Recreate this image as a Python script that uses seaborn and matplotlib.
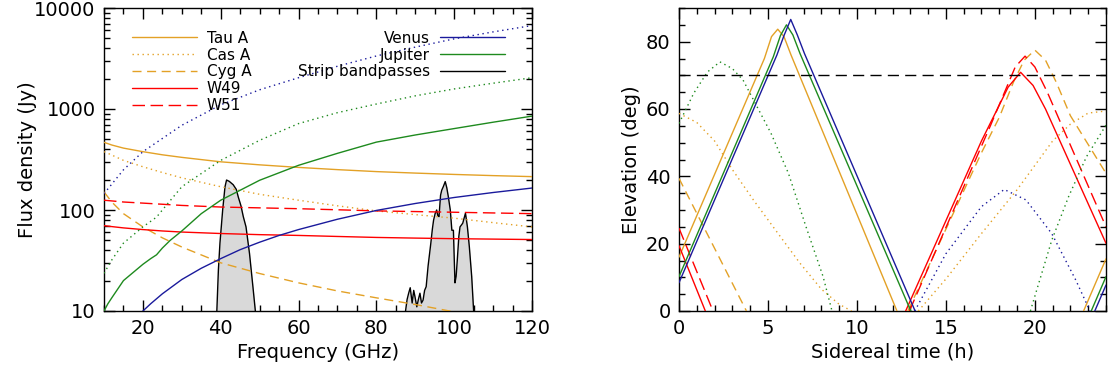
import numpy as np
import pandas as pd
import matplotlib
matplotlib.use("Agg")
import matplotlib.pyplot as plt
import seaborn as sns
from matplotlib.ticker import MultipleLocator, FixedLocator, FuncFormatter, NullFormatter

# ---------------- Left panel data (flux density vs frequency) ----------------
FREQ = [10, 12, 15, 20, 25, 30, 40, 50, 60, 70, 80, 90, 100, 110, 120]
TAU_A = [468, 440, 410, 378, 352, 332, 300, 280, 264, 251, 240, 232, 225, 219, 214]
CAS_A = [378, 350, 310, 268, 235, 208, 170, 143, 125, 110, 98, 90, 83, 75, 68]
CYG_A = [151, 120, 92, 68, 53, 43, 30, 23.5, 19, 15.8, 13.5, 11.6, 9.8, 8.6, 7.7]
W49 = [70, 68.5, 66.5, 64, 62, 60.5, 58.5, 57, 56, 54.7, 53.5, 52.7, 52, 51.5, 51]
W51 = [125, 123, 120, 117, 114, 111, 107, 105, 103, 100.5, 98, 96.5, 95, 93.5, 92]

VENUS_F = [20, 22, 25, 30, 35, 40, 45, 50, 55, 60, 70, 80, 90, 100, 110, 120]
VENUS = [10, 11.8, 14.8, 20.5, 26.5, 33, 40.5, 48, 56, 64, 81, 99, 116, 133, 149, 165]

JUP_F = [10, 11, 12, 15, 18, 20, 22, 23.5, 25, 27, 30, 35, 40, 50, 60, 70, 80, 90, 100, 110, 120]
JUPITER = [10, 11.8, 13.5, 20, 25, 29, 33, 36, 42, 50, 62, 92, 125, 197, 277, 364, 470, 553, 640, 740, 850]

BLUE_DOT_F = [10, 15, 20, 30, 40, 50, 60, 70, 80, 90, 100, 110, 120]
BLUE_DOT = [145, 250, 378, 690, 1100, 1550, 2040, 2650, 3350, 4100, 4950, 5800, 6700]

GREEN_DOT_F = [10, 12, 15, 20, 23.5, 25, 30, 40, 50, 60, 70, 80, 90, 100, 110, 120]
GREEN_DOT = [23.6, 32, 47, 68, 85, 100, 170, 310, 490, 717, 920, 1120, 1350, 1580, 1800, 2040]

BAND1_F = [39.0, 39.4, 39.8, 40.5, 41.1, 41.5, 42.2, 43.2, 44.0, 44.5, 45.2, 45.8,
           46.5, 47.4, 48.3, 48.9]
BAND1 = [10, 25.5, 47, 100, 170, 198, 192, 178, 160, 135, 110, 86, 68, 37, 17, 10]

BAND2_F = [87.5, 87.9, 88.3, 88.7, 89.2, 89.6, 89.9, 90.4, 90.8, 91.2, 91.6, 92.0,
           92.4, 92.8, 93.3, 94.0, 94.4, 94.7, 95.1, 95.5, 95.8, 96.1, 96.5, 96.8,
           97.2, 97.7, 98.1, 98.5, 99.0, 99.4, 99.8, 100.2, 100.5, 100.8, 101.2,
           101.5, 102.2, 102.9, 103.4, 103.9, 104.5, 105.0]
BAND2 = [10, 13, 15, 17, 12, 16, 14, 11, 13, 15, 12, 12.8,
         16, 17.4, 28, 47, 65, 79, 92, 100, 88, 86, 140, 157,
         170, 191, 166, 135, 100, 63, 63, 19, 22, 32, 55,
         68, 74, 93, 68, 43, 22, 10]

# ---------------- Right panel data (elevation vs sidereal time) ----------------
TAU_H = [[0, 4.8, 5.2, 5.55, 5.9, 6.3, 12.25], [22.74, 24]]
TAU_EL = [[16, 75, 81.5, 83.7, 81.5, 76, 0], [0, 15.5]]

JUP_H = [[0, 5.3, 5.7, 6.04, 6.4, 6.8, 13.03], [23.17, 24]]
JUP_EL = [[10.2, 75.5, 81.8, 85, 82, 76.5, 0], [0, 10.2]]

VEN_H = [[0, 5.5, 5.9, 6.28, 6.65, 7.05, 13.27], [23.37, 24]]
VEN_EL = [[8.4, 76, 81.8, 86.6, 82, 76.5, 0], [0, 7.7]]

W49_H = [[0, 1.48], [12.74, 17.0, 17.8, 18.5, 19.2, 19.9, 20.6, 24]]
W49_EL = [[19.4, 0], [0, 50.5, 59, 66.5, 70.9, 67, 60, 20.1]]

W51_H = [[0, 1.91], [12.95, 17.5, 18.3, 18.9, 19.45, 20.0, 20.7, 24]]
W51_EL = [[24.6, 0], [0, 55, 65, 72.5, 75.7, 72.5, 65, 25]]

CYG_H = [[0, 3.79], [12.86, 17.0, 18.0, 18.8, 19.4, 20.0, 20.6, 21.2, 22.0, 24]]
CYG_EL = [[39.4, 0], [0, 47, 57.5, 68, 74.5, 77.5, 74.5, 68, 58, 40.9]]

CAS_H = [[0, 1, 2, 3, 4.18, 5.5, 6.8, 8.0, 9.0, 9.7],
         [13.45, 15.0, 17.0, 19.0, 21.0, 22.0, 23.0, 24]]
CAS_EL = [[58.7, 56, 50.5, 42, 33, 23.5, 14.2, 6.5, 2.0, 0],
          [0, 9.5, 23, 36, 50.5, 55.5, 58.8, 59.4]]

BDOT_H = [[13.25, 15.0, 17.0, 18.28, 19.5, 20.95, 22.3, 23.1]]
BDOT_EL = [[0, 17, 31, 36.1, 33, 23, 9.2, 0]]

GDOT_H = [[0, 0.83, 1.6, 2.3, 3.0, 3.6, 5.17, 6.15, 7.14, 8.1, 8.6],
          [19.75, 20.95, 21.9, 22.9, 24]]
GDOT_EL = [[55.7, 64.7, 71, 74, 72, 68.6, 52.8, 40.9, 25, 10.2, 0],
           [0, 21, 34, 45.8, 55.2]]

LIMIT_H = [0, 24]
LIMIT_EL = [70, 70]

LABELS_L = ["Tau A", "Cas A", "Cyg A", "W49", "W51"]
LABELS_R = ["Venus", "Jupiter", "Strip bandpasses"]

# ---------------- Styles ----------------
ORANGE = "#e3a126"
RED = "#ff0000"
GREEN = "#1e8a1e"
BLUE = "#1a1a9c"
DOT = (0, (1, 2.6))
CYGDASH = (0, (6.5, 4))
W51DASH = (0, (9, 4))
LW = 1.0

sns.set_theme(style="ticks")
plt.rcParams['font.family'] = ['DejaVu Sans']
plt.rcParams['axes.linewidth'] = 1.0
for k in ("text.color", "axes.labelcolor", "xtick.color", "ytick.color", "axes.edgecolor"):
    plt.rcParams[k] = "black"

fig = plt.figure(figsize=(11.10, 3.72), dpi=100)
axL = fig.add_axes([104 / 1110, 61 / 372, 428 / 1110, 303 / 372])
axR = fig.add_axes([679 / 1110, 61 / 372, 427 / 1110, 303 / 372])


def line(ax, x, y, color, ls="-", lw=LW, zorder=3):
    sns.lineplot(x=np.asarray(x, float), y=np.asarray(y, float), ax=ax, color=color,
                 linewidth=lw, linestyle=ls, estimator=None, sort=False,
                 legend=False, zorder=zorder)
    return ax.lines[-1]


# ---------- Left ----------
axL.set_yscale("log")
for bf, bs in [(BAND1_F, BAND1), (BAND2_F, BAND2)]:
    axL.fill_between(bf, bs, 10, color="#d9d9d9", linewidth=0, zorder=1)
    line(axL, bf, bs, "black", zorder=2)

hL = []
hL.append(line(axL, FREQ, TAU_A, ORANGE))
hL.append(line(axL, FREQ, CAS_A, ORANGE, DOT))
hL.append(line(axL, FREQ, CYG_A, ORANGE, CYGDASH))
hL.append(line(axL, FREQ, W49, RED))
hL.append(line(axL, FREQ, W51, RED, W51DASH))
hV = line(axL, VENUS_F, VENUS, BLUE)
hJ = line(axL, JUP_F, JUPITER, GREEN)
line(axL, BLUE_DOT_F, BLUE_DOT, BLUE, DOT)
line(axL, GREEN_DOT_F, GREEN_DOT, GREEN, DOT)
hS = axL.lines[1]

axL.set_xlim(10, 120)
axL.set_ylim(10, 10000)
axL.xaxis.set_major_locator(MultipleLocator(20))
axL.xaxis.set_minor_locator(MultipleLocator(5))
axL.yaxis.set_major_locator(FixedLocator([10, 100, 1000, 10000]))
axL.yaxis.set_major_formatter(FuncFormatter(lambda v, p: f"{v:g}"))
minors = [m * 10 ** e for e in range(1, 4) for m in range(2, 10)]
axL.yaxis.set_minor_locator(FixedLocator(minors))
axL.yaxis.set_minor_formatter(NullFormatter())
axL.set_xlabel("Frequency (GHz)", fontsize=14, labelpad=3)
axL.set_ylabel("Flux density (Jy)", fontsize=14)
axL.yaxis.set_label_coords(-0.157, 0.5)

legkw = dict(frameon=False, fontsize=11, handlelength=4.25, handletextpad=0.65,
             labelspacing=0.12, borderpad=0, borderaxespad=0, labelcolor="black")
leg1 = axL.legend(hL, LABELS_L, loc="upper left", bbox_to_anchor=(0.065, 0.925), **legkw)
axL.add_artist(leg1)
axL.legend([hV, hJ, hS], LABELS_R, loc="upper right", bbox_to_anchor=(0.937, 0.925),
           markerfirst=False, **legkw)

# ---------- Right ----------
for hs, es, c, ls in [(TAU_H, TAU_EL, ORANGE, "-"), (CAS_H, CAS_EL, ORANGE, DOT),
                      (CYG_H, CYG_EL, ORANGE, CYGDASH), (W49_H, W49_EL, RED, "-"),
                      (W51_H, W51_EL, RED, W51DASH), (JUP_H, JUP_EL, GREEN, "-"),
                      (VEN_H, VEN_EL, BLUE, "-"), (BDOT_H, BDOT_EL, BLUE, DOT),
                      (GDOT_H, GDOT_EL, GREEN, DOT)]:
    for h, e in zip(hs, es):
        line(axR, h, e, c, ls)
line(axR, LIMIT_H, LIMIT_EL, "black", (0, (8, 4.5)))

axR.set_xlim(0, 24)
axR.set_ylim(0, 90)
axR.xaxis.set_major_locator(MultipleLocator(5))
axR.xaxis.set_minor_locator(MultipleLocator(1))
axR.yaxis.set_major_locator(MultipleLocator(20))
axR.yaxis.set_minor_locator(MultipleLocator(5))
axR.set_xlabel("Sidereal time (h)", fontsize=14, labelpad=3)
axR.set_ylabel("Elevation (deg)", fontsize=14)
axR.yaxis.set_label_coords(-0.089, 0.5)

for ax in (axL, axR):
    ax.tick_params(which="both", direction="in", top=True, right=True,
                   bottom=True, left=True, colors="black", width=1.0, labelsize=14)
    ax.tick_params(which="major", length=8, pad=6)
    ax.tick_params(which="minor", length=4)
    for s in ax.spines.values():
        s.set_color("black")
        s.set_linewidth(1.0)
    ax.set_facecolor("white")

fig.savefig("out.png", dpi=100, facecolor="white")
